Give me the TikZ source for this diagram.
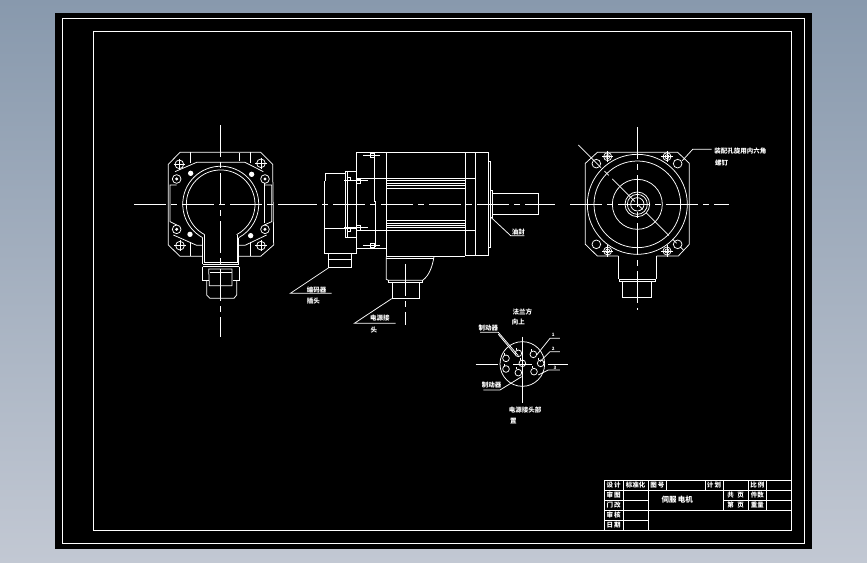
\documentclass[tikz,border=0pt]{standalone}
\usepackage{fontspec}
\setmainfont{Noto Sans CJK SC}
\usetikzlibrary{positioning}
\definecolor{paneltop}{HTML}{8899AD}
\definecolor{panelbot}{HTML}{C2C8D3}
\tikzset{
    cadline/.style={draw=white, line width=0.75pt},
    centerline/.style={draw=white, line width=0.75pt, dash pattern=on 32pt off 5pt on 6pt off 5pt},
    cadlabel/.style={text=white, inner sep=0pt, font=\fontsize{6.5}{7}\selectfont\bfseries},
    tablelabel/.style={text=white, inner sep=0pt, font=\fontsize{6.5}{7}\selectfont\bfseries},
    pinlabel/.style={text=white, inner sep=0pt, font=\fontsize{4.5}{5}\selectfont\bfseries},
    zoomview/.style={x=0.3333pt, y=-0.3333pt}
}
\begin{document}
\begin{tikzpicture}[x=1pt, y=-1pt]
    \useasboundingbox (0,0) rectangle (867,562);
    \shade[top color=paneltop, bottom color=panelbot] (0,0) rectangle (867,562);
    \fill[black] (55,13) rectangle (812,549);
    \draw[cadline] (62.5,18.5) rectangle (804.5,543.5);
    \draw[cadline] (93.5,31.5) rectangle (791,530);

    % Rear view
    \begin{scope}[shift={(130,120)}, zoomview, cadline]
        \draw[centerline] (271,15) -- (271,650);
        \draw[centerline] (12,253) -- (540,253);
        \draw (218,409) -- (150,409) -- (115,375) -- (115,133) -- (150,97) -- (392,97)
            -- (428,133) -- (431,375) -- (392,409) -- (326,409);
        \draw (181,97) -- (181,128) (362,97) -- (362,128) (328,100) -- (328,122);
        \draw (181,365) -- (181,409) (362,365) -- (362,409);
        \draw (135,155) -- (200,127) -- (345,127) -- (400,155);
        \draw (130,345) -- (200,376) -- (218,376) (326,376) -- (345,376) -- (410,345);
        \draw (140,195) -- (120,195) -- (120,305) -- (140,315);
        \draw (403,195) -- (425,195) -- (425,305) -- (403,315);
        \draw (403,190) -- (403,310);
        \draw (218,353) arc[start angle=118.4, end angle=421.6, radius=114];
        \draw (224,344) arc[start angle=117.8, end angle=422.2, radius=103];
        \draw (218,353) -- (218,433) (326,353) -- (326,433);
        \draw (224,344) -- (224,428) -- (322,428) -- (322,344);
        \draw (218,433) -- (326,433) (218,440) -- (326,440);
        \draw (218,440) -- (218,480) -- (238,480) (328,440) -- (328,480) -- (308,480);
        \draw (236,447) -- (306,447) -- (306,497) -- (238,497) -- cycle;
        \draw (240,457) -- (306,457);
        \draw (230,483) -- (230,525) -- (240,535) -- (312,535) -- (320,525) -- (320,483);
        \foreach \px/\py in {148/133, 393/130, 150/377, 393/377} {
            \draw (\px,\py) circle[radius=13];
            \draw (\px-17,\py) -- (\px+17,\py) (\px,\py-17) -- (\px,\py+17);
        }
        \foreach \px/\py in {140/177, 405/177, 140/328, 405/328} {
            \draw (\px,\py) circle[radius=13];
            \fill[white] (\px,\py) circle[radius=5];
        }
        \foreach \px/\py in {182/160, 365/163, 180/343, 362/347} {
            \fill[white] (\px,\py) circle[radius=8];
        }
    \end{scope}

    % Side view
    \begin{scope}[shift={(285,140)}, zoomview, cadline]
        \draw[centerline] (0,193) -- (810,193);
        \draw (304,350) -- (304,37) (214,341) -- (214,37) -- (610,37) -- (610,347) -- (541,347);
        \draw (304,350) -- (540,350);
        \draw (541,37) -- (541,347) (571,37) -- (571,347);
        \draw (214,115) -- (571,115) (214,271) -- (571,271) (214,325) -- (304,325);
        \foreach \py in {122,130,137,145,241,250,256,262} {
            \draw (304,\py) -- (540,\py);
        }
        \draw (610,63) -- (617,63) -- (617,323) -- (610,323);
        \draw (617,150) -- (623,150) -- (623,232) -- (617,232);
        \draw (623,160) rectangle (761,224);
        \draw (181,94) rectangle (214,292);
        \draw (187,94) -- (187,292);
        \draw (181,100) -- (121,100) -- (121,124);
        \draw (118,124) -- (118,341) -- (214,341);
        \draw (118,265) -- (214,265);
        \draw (130,341) -- (130,383) -- (200,383) -- (200,341) (130,358) -- (200,358);
        \draw (235,46) -- (285,46) (235,316) -- (285,316);
        \draw (256,40) rectangle (268,52) (256,310) rectangle (268,322);
        \draw (178,121) -- (248,121) (178,262) -- (248,262);
        \draw (215,117) rectangle (227,130) (215,257) rectangle (227,270);
        \draw (188,112) rectangle (196,120) (188,264) rectangle (196,275);
        \draw (269,50) -- (269,183) -- (272,183) -- (272,320);
        \draw (304,355) -- (447,355);
        \draw (304,350) -- (304,418) -- (310,421) -- (413,421) -- (420,415)
            .. controls (435,400) and (443,375) .. (447,350);
        \draw (310,421) -- (310,428) -- (413,428) -- (413,421);
        \draw (322,428) -- (322,475) -- (404,475) -- (404,428);
        \draw[centerline] (361,372) -- (361,555);
        % Leaders
        \draw (130,384) -- (16,460) -- (140,460);
        \draw (320,476) -- (208,550) -- (332,550);
        \draw (618,232) -- (677,287) -- (718,287);
        \node[cadlabel] (lblplug) at (95,449) {编码器};
        \node[cadlabel] (lblplugb) at (85,483) {插头};
        \node[cadlabel] (lblpower) at (285,535) {电源接};
        \node[cadlabel] (lblpowerb) at (267,570) {头};
        \node[cadlabel] (lblseal) at (700,277) {油封};
    \end{scope}

    % Front view
    \begin{scope}[shift={(570,120)}, zoomview, cadline]
        \draw[centerline] (202,22) -- (202,570);
        \draw[centerline] (0,253) -- (477,253);
        \draw[centerline] (25,75) -- (340,390);
        \draw (145,408) -- (82,408) -- (46,373) -- (46,130) -- (82,97) -- (323,97)
            -- (358,130) -- (358,373) -- (325,408) -- (260,408);
        \draw (145,408) -- (145,477) (260,408) -- (260,477);
        \draw (148,477) rectangle (256,484);
        \draw (157,484) -- (157,532) -- (245,532) -- (245,484);
        \foreach \rad in {150,130,75,37,30,20} {
            \draw (202,253) circle[radius=\rad];
        }
        \foreach \px/\py in {79/131, 323/131, 79/373, 323/373} {
            \draw (\px,\py) circle[radius=13];
        }
        \foreach \px/\py in {113/110, 291/110, 113/393, 291/393} {
            \draw (\px,\py) circle[radius=12];
            \draw (\px,\py) circle[radius=6];
            \draw (\px-17,\py) -- (\px+17,\py) (\px,\py-17) -- (\px,\py+17);
        }
        \draw (337,122) -- (368,88) -- (425,88);
        \node[cadlabel] (lblhole) at (511,94) {装配孔旋用内六角};
        \node[cadlabel] (lblscrew) at (455,128) {螺钉};
    \end{scope}

    % Connector pins
    \begin{scope}[shift={(465,300)}, zoomview, cadline]
        \draw (172,192) circle[radius=67];
        \draw (172,110) -- (172,310);
        \draw (32,192) -- (100,192) (145,192) -- (200,192) (250,192) -- (310,192);
        \foreach \px/\py in {160/160, 205/163, 227/190, 207/215, 160/218, 123/175, 123/207, 172/190} {
            \draw (\px,\py) circle[radius=10];
            \draw (\px-6,\py-10) -- (\px-6,\py-16);
        }
        \draw (45,97) -- (100,97) -- (160,167) (100,103) -- (152,165);
        \draw (55,270) -- (105,270) -- (170,230);
        \draw (215,165) -- (255,115) -- (285,115);
        \draw (225,185) -- (255,155) -- (285,155);
        \draw (220,225) -- (250,210) -- (285,210);
        \node[cadlabel] (lblflange) at (172,37) {法兰方};
        \node[cadlabel] (lblflangeb) at (160,66) {向上};
        \node[cadlabel] (lblbrakea) at (70,83) {制动器};
        \node[cadlabel] (lblbrakeb) at (80,255) {制动器};
        \node[cadlabel] (lblsocket) at (180,330) {电源接头部};
        \node[cadlabel] (lblsocketb) at (145,362) {置};
        \node[pinlabel] (lblpina) at (265,105) {1};
        \node[pinlabel] (lblpinb) at (265,147) {2};
        \node[pinlabel] (lblpinc) at (270,205) {3};
    \end{scope}

    % Title block
    \begin{scope}[shift={(595,470)}, zoomview, cadline]
        \draw (28,30) rectangle (590,180);
        \draw (28,60) -- (590,60) (28,90) -- (160,90) (385,90) -- (590,90);
        \draw (28,120) -- (590,120) (28,150) -- (160,150);
        \draw (85,30) -- (85,180) (160,30) -- (160,180);
        \draw (215,30) -- (215,60) (330,30) -- (330,60);
        \draw (385,30) -- (385,120) (460,30) -- (460,120) (515,30) -- (515,120);
        \node[tablelabel] (tdesign) at (56,45) {设\,计};
        \node[tablelabel] (tstd) at (122,45) {标准化};
        \node[tablelabel] (tdraw) at (187,45) {图\,号};
        \node[tablelabel] (tplan) at (357,45) {计\,划};
        \node[tablelabel] (tscale) at (487,45) {比\,例};
        \node[tablelabel] (tcheck) at (56,75) {审\,图};
        \node[tablelabel] (tmod) at (56,105) {门\,改};
        \node[tablelabel] (taudit) at (56,135) {审\,核};
        \node[tablelabel] (tdate) at (56,165) {日\,期};
        \node[tablelabel] (ttotal) at (422,75) {共\;\;页};
        \node[tablelabel] (tcount) at (487,75) {件数};
        \node[tablelabel] (tpage) at (422,105) {第\;\;页};
        \node[tablelabel] (tweight) at (487,105) {重量};
        \node[tablelabel, font=\fontsize{7.5}{8}\selectfont\bfseries] (ttitle) at (247,88) {伺服\,电机};
    \end{scope}
\end{tikzpicture}
\end{document}
